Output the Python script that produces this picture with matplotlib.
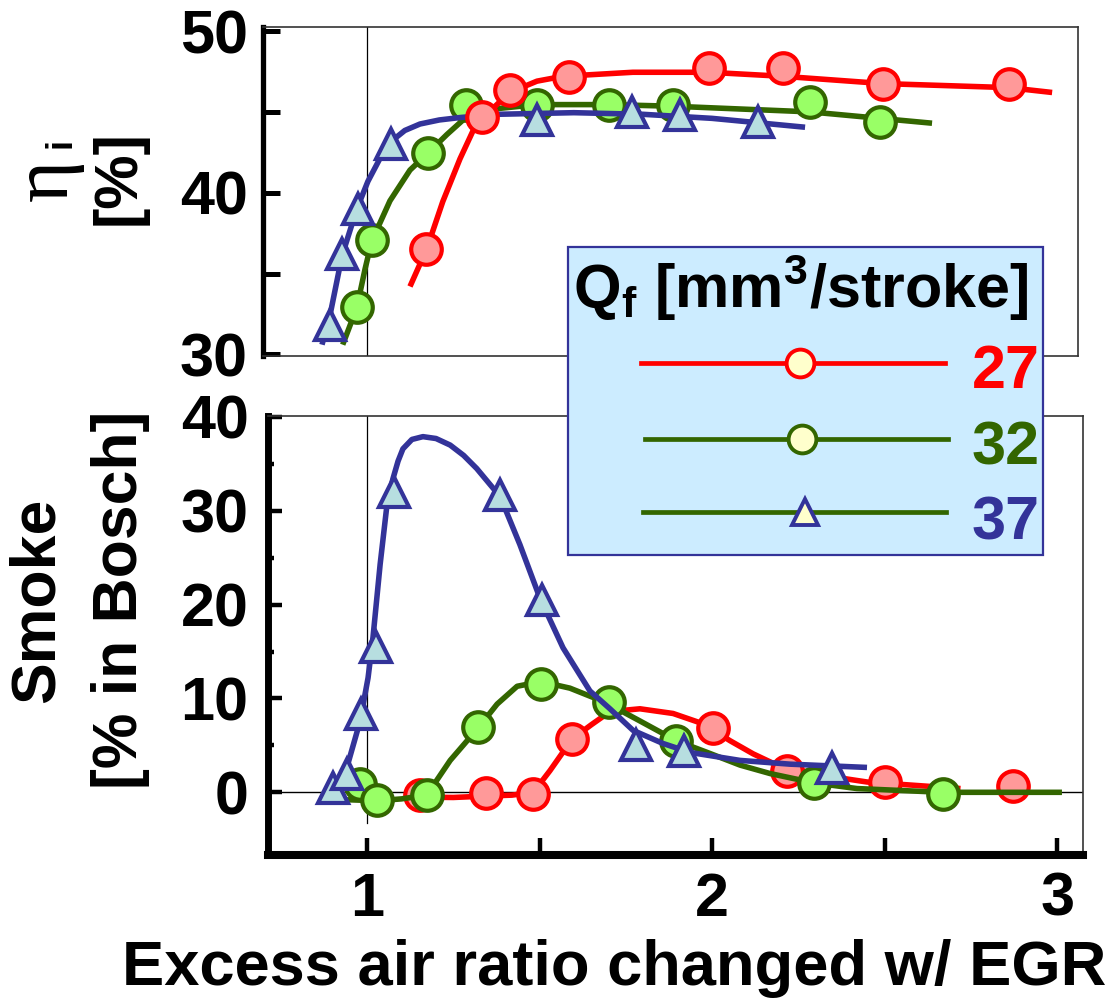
import numpy as np
import matplotlib.pyplot as plt
from matplotlib.lines import Line2D
from matplotlib.patches import Rectangle

plt.rcParams['font.family'] = ['Liberation Sans', 'DejaVu Sans']
plt.rcParams['font.weight'] = 'bold'
plt.rcParams['mathtext.fontset'] = 'custom'
plt.rcParams['mathtext.rm'] = 'Liberation Sans:bold'
plt.rcParams['mathtext.bf'] = 'Liberation Sans:bold'

W, H = 1113, 1001

# ---- top panel: eta_i [%] vs excess air ratio ----
eta27_x = [1.171, 1.333, 1.414, 1.586, 1.991, 2.206, 2.496, 2.861]
eta27_y = [36.5, 44.7, 46.35, 47.15, 47.7, 47.7, 46.7, 46.75]
eta27_fx = [1.125, 1.174, 1.220, 1.270, 1.307, 1.357, 1.414, 1.493, 1.568, 1.771, 1.991, 2.206, 2.496, 2.86, 2.986]
eta27_fy = [34.2, 36.55, 39.45, 42.1, 43.8, 45.05, 46.2, 46.9, 47.2, 47.45, 47.45, 47.2, 46.75, 46.5, 46.2]

eta32_x = [0.971, 1.014, 1.177, 1.287, 1.493, 1.701, 1.887, 2.284, 2.487]
eta32_y = [32.9, 37.05, 42.45, 45.4, 45.4, 45.4, 45.4, 45.6, 44.4]
eta32_fx = [0.930, 0.971, 0.995, 1.014, 1.067, 1.125, 1.177, 1.232, 1.284, 1.377, 1.493, 1.70, 1.887, 2.284, 2.638]
eta32_fy = [30.6, 32.9, 35.3, 37.0, 39.5, 41.4, 42.45, 43.6, 44.6, 45.2, 45.45, 45.45, 45.35, 45.0, 44.3]

eta37_x = [0.893, 0.928, 0.973, 1.071, 1.492, 1.767, 1.907, 2.134]
eta37_y = [31.8, 36.2, 39.0, 43.0, 44.5, 45.0, 44.8, 44.4]
eta37_fx = [0.870, 0.893, 0.928, 0.971, 1.003, 1.040, 1.072, 1.110, 1.154, 1.210, 1.270, 1.377, 1.6, 1.8, 2.0, 2.27]
eta37_fy = [30.6, 32.4, 36.1, 39.0, 40.7, 42.2, 43.2, 43.85, 44.25, 44.5, 44.65, 44.85, 44.95, 44.85, 44.6, 44.05]

# ---- bottom panel: smoke [% in Bosch] ----
sm27_x = [1.154, 1.345, 1.482, 1.595, 2.002, 2.216, 2.501, 2.872]
sm27_y = [-0.3, -0.07, -0.14, 5.7, 6.86, 2.26, 1.1, 0.67]
sm27_fx = [1.125, 1.25, 1.345, 1.42, 1.482, 1.530, 1.595, 1.65, 1.704, 1.791, 1.887, 1.974, 2.052, 2.119, 2.188, 2.322, 2.449, 2.72]
sm27_fy = [-0.5, -0.55, -0.4, -0.3, 0.0, 2.3, 5.7, 7.2, 8.6, 8.9, 8.4, 7.3, 5.5, 4.1, 2.9, 1.8, 1.1, 0.4]

sm32_x = [0.980, 1.028, 1.173, 1.323, 1.504, 1.700, 1.896, 2.296, 2.668]
sm32_y = [0.92, -0.85, -0.32, 6.93, 11.53, 9.58, 5.5, 1.03, -0.14]
sm32_fx = [0.884, 0.95, 1.03, 1.10, 1.173, 1.241, 1.323, 1.377, 1.435, 1.504, 1.588, 1.690, 1.791, 1.896, 1.986, 2.081, 2.168, 2.296, 2.420, 2.668, 3.014]
sm32_fy = [-0.9, -0.8, -0.9, -0.7, -0.3, 3.4, 6.9, 9.4, 11.3, 11.8, 11.1, 9.6, 7.6, 5.5, 4.25, 2.9, 2.0, 1.0, 0.4, 0.0, 0.0]

sm37_x = [0.902, 0.941, 0.982, 1.025, 1.079, 1.386, 1.506, 1.780, 1.919, 2.347]
sm37_y = [0.5, 2.0, 8.35, 15.5, 32.0, 31.7, 20.5, 5.0, 4.35, 2.6]
sm37_fx = [0.902, 0.942, 0.980, 1.003, 1.017, 1.038, 1.058, 1.075, 1.090, 1.104, 1.130, 1.162, 1.200, 1.241, 1.280, 1.318, 1.386, 1.443, 1.501, 1.568, 1.646, 1.704, 1.771, 1.858, 1.936, 2.081, 2.226, 2.449]
sm37_fy = [0.5, 2.7, 7.6, 12.2, 16.4, 24.3, 30.7, 33.4, 35.3, 36.6, 37.6, 37.9, 37.7, 37.0, 35.9, 34.5, 31.5, 26.4, 20.7, 15.4, 10.8, 8.9, 6.6, 5.2, 4.25, 3.4, 3.0, 2.65]

legend_labels = ['27', '32', '37']

red, red_f = '#FF0000', '#FF9999'
green, green_f = '#336600', '#99FF66'
blue, blue_f = '#333399', '#B7DEE0'

fs = 44
lw = 4.0


def px(x0, y0, x1, y1):
    # pixel box (top-left origin) -> figure fraction rect
    return [x0 / W, 1 - y1 / H, (x1 - x0) / W, (y1 - y0) / H]


def series(ax, fx, fy, mx, my, col, fill, marker, ms, z):
    ax.plot(fx, fy, color=col, lw=lw, solid_joinstyle='round', solid_capstyle='butt', zorder=z)
    ax.plot(mx, my, ls='none', marker=marker, ms=ms, mfc=fill, mec=col, mew=3.0, zorder=z + 0.5)


def frame(ax, lw_left, lw_bottom):
    for s in ['top', 'right']:
        ax.spines[s].set_linewidth(1.2)
        ax.spines[s].set_color('#333333')
    ax.spines['left'].set_linewidth(lw_left)
    ax.spines['bottom'].set_linewidth(lw_bottom)


fig = plt.figure(figsize=(W / 100, H / 100), dpi=100)

# top axes
ax1 = fig.add_axes(px(263, 27, 1078, 356))
ax1.set_xlim(0.699, 3.061)
ax1.set_ylim(29.9, 50.25)
frame(ax1, 3.8, 1.2)
ax1.spines['bottom'].set_color('#333333')
ax1.axvline(1, color='black', lw=0.9, zorder=1)
series(ax1, eta32_fx, eta32_fy, eta32_x, eta32_y, green, green_f, 'o', 22, 3)
series(ax1, eta37_fx, eta37_fy, eta37_x, eta37_y, blue, blue_f, '^', 21, 4)
series(ax1, eta27_fx, eta27_fy, eta27_x, eta27_y, red, red_f, 'o', 22, 5)
ax1.set_xticks([])
ax1.set_yticks([30, 40, 50])
ax1.set_yticks([35, 45], minor=True)
ax1.tick_params(axis='y', which='both', direction='in', length=12, width=3.6, labelsize=fs, pad=11)
ax1.set_yticklabels(['30', '40', '50'], fontweight='bold')

# bottom axes
ax2 = fig.add_axes(px(268, 416, 1083, 855))
ax2.set_xlim(0.713, 3.075)
ax2.set_ylim(-6.68, 40.1)
frame(ax2, 5.0, 5.8)
ax2.axhline(0, color='black', lw=1.0, zorder=1)
ax2.axvline(1, ymin=0.074, color='black', lw=0.9, zorder=1)
series(ax2, sm27_fx, sm27_fy, sm27_x, sm27_y, red, red_f, 'o', 22, 3)
series(ax2, sm32_fx, sm32_fy, sm32_x, sm32_y, green, green_f, 'o', 22, 4)
series(ax2, sm37_fx, sm37_fy, sm37_x, sm37_y, blue, blue_f, '^', 21, 5)
ax2.set_xticks([1, 2, 3])
ax2.set_xticks([1.5, 2.5], minor=True)
ax2.set_xticklabels(['1', '2', '3'], fontweight='bold')
ax2.tick_params(axis='x', which='both', direction='in', length=12, width=3.2, labelsize=fs, pad=12)
ax2.set_yticks([0, 10, 20, 30, 40])
ax2.set_yticks([5, 15, 25, 35], minor=True)
ax2.set_yticklabels(['0', '10', '20', '30', '40'], fontweight='bold')
ax2.tick_params(axis='y', which='major', direction='in', length=10, width=3.2, labelsize=fs, pad=14)
ax2.tick_params(axis='y', which='minor', direction='in', length=4.5, width=3.2)

# axis titles
fig.text(614 / W, 1 - 985 / H, 'Excess air ratio changed w/ EGR', ha='center', va='baseline',
         fontsize=45.5, fontweight='bold')
fig.text(47 / W, 1 - 180 / H, 'η', rotation=90, ha='center', va='center', fontsize=58,
         fontweight='normal', family=['Liberation Serif', 'DejaVu Serif'])
fig.text(61 / W, 1 - 143 / H, 'i', rotation=90, ha='center', va='center', fontsize=26, fontweight='bold')
fig.text(119 / W, 1 - 178 / H, '[%]', rotation=90, ha='center', va='center', fontsize=fs, fontweight='bold')
fig.text(37 / W, 1 - 600 / H, 'Smoke', rotation=90, ha='center', va='center', fontsize=45, fontweight='bold')
fig.text(120 / W, 1 - 600 / H, '[% in Bosch]', rotation=90, ha='center', va='center', fontsize=45,
         fontweight='bold')

# legend box, drawn by hand on top of both panels
box = Rectangle((568 / W, 1 - 555 / H), 475 / W, 308 / H, transform=fig.transFigure,
                facecolor='#CCECFF', edgecolor=blue, lw=1.6, zorder=10)
fig.add_artist(box)
fig.text(573 / W, 1 - 308 / H, r'Q$_\mathbf{f}$ [mm$^\mathbf{3}$/stroke]', ha='left', va='baseline',
         fontsize=fs, fontweight='bold', zorder=11)
leg_rows = [(363, 641, 945, 800, red, 'o', 388),
            (439, 645, 948, 802, green, 'o', 465),
            (512, 643, 946, 805, green, '^', 540)]
leg_text_col = [red, green, blue]
leg_mec = [red, green, blue]
for (ly, lx0, lx1, mx, lc, mk, base), lab, tc, mec in zip(leg_rows, legend_labels, leg_text_col, leg_mec):
    fig.add_artist(Line2D([lx0 / W, lx1 / W], [1 - ly / H, 1 - ly / H], transform=fig.transFigure,
                          color=lc, lw=3.4, zorder=11))
    fig.add_artist(Line2D([mx / W], [1 - ly / H], transform=fig.transFigure, marker=mk,
                          ms=20 if mk == 'o' else 19, mfc='#FFFFCC', mec=mec, mew=2.8, zorder=12))
    fig.text(1040 / W, 1 - base / H, lab, ha='right', va='baseline', fontsize=fs,
             fontweight='bold', color=tc, zorder=12)

fig.savefig('out.png', dpi=100)
